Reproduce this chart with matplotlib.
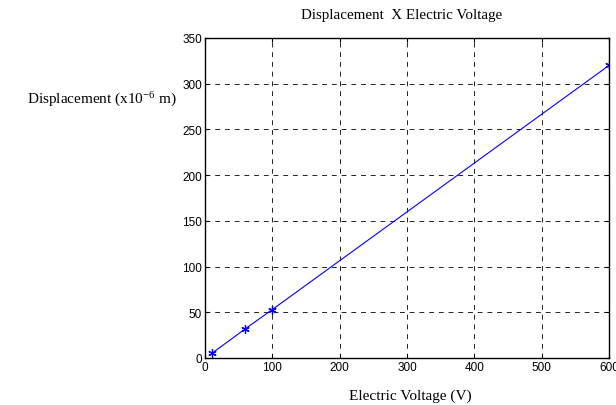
import matplotlib
matplotlib.use("Agg")
import matplotlib.pyplot as plt

voltage = [10, 60, 100, 600]
displacement = [5, 32, 53, 320]
xticks = [0, 100, 200, 300, 400, 500, 600]
yticks = [0, 50, 100, 150, 200, 250, 300, 350]

plt.rcParams['lines.scale_dashes'] = False
plt.rcParams['mathtext.fontset'] = 'custom'
plt.rcParams['mathtext.rm'] = 'Liberation Serif'
plt.rcParams['mathtext.it'] = 'Liberation Serif:italic'

fig = plt.figure(figsize=(6.16, 4.06), dpi=100)
ax = fig.add_axes([205/616, 1-359/406, 404/616, 320/406])

ax.plot(voltage, displacement, color='blue', lw=0.8, marker=(6, 2, 0),
        markersize=6, markeredgewidth=0.9, markeredgecolor='blue')

ax.set_xlim(0, 600)
ax.set_ylim(0, 350)
ax.set_xticks(xticks)
ax.set_yticks(yticks)
ax.grid(True, color='black', linestyle=(0, (3.5, 3.5)), lw=0.6)
ax.tick_params(direction='in', length=3, width=0.8, top=True, right=True,
               labelsize=8.5, pad=2)
for lab in ax.get_xticklabels() + ax.get_yticklabels():
    lab.set_family('Liberation Sans')
for s in ax.spines.values():
    s.set_linewidth(1.0)

fig.text(402/616, 1-16/406, 'Displacement  X Electric Voltage', family='Liberation Serif',
         fontsize=10.8, ha='center', va='center')
fig.text(410/616, 1-396/406, 'Electric Voltage (V)', family='Liberation Serif',
         fontsize=11, ha='center', va='center')
fig.text(102/616, 1-100/406, 'Displacement (x10$^{-6}$ m)', family='Liberation Serif',
         fontsize=11, ha='center', va='center')

fig.savefig('out.png', dpi=100)
